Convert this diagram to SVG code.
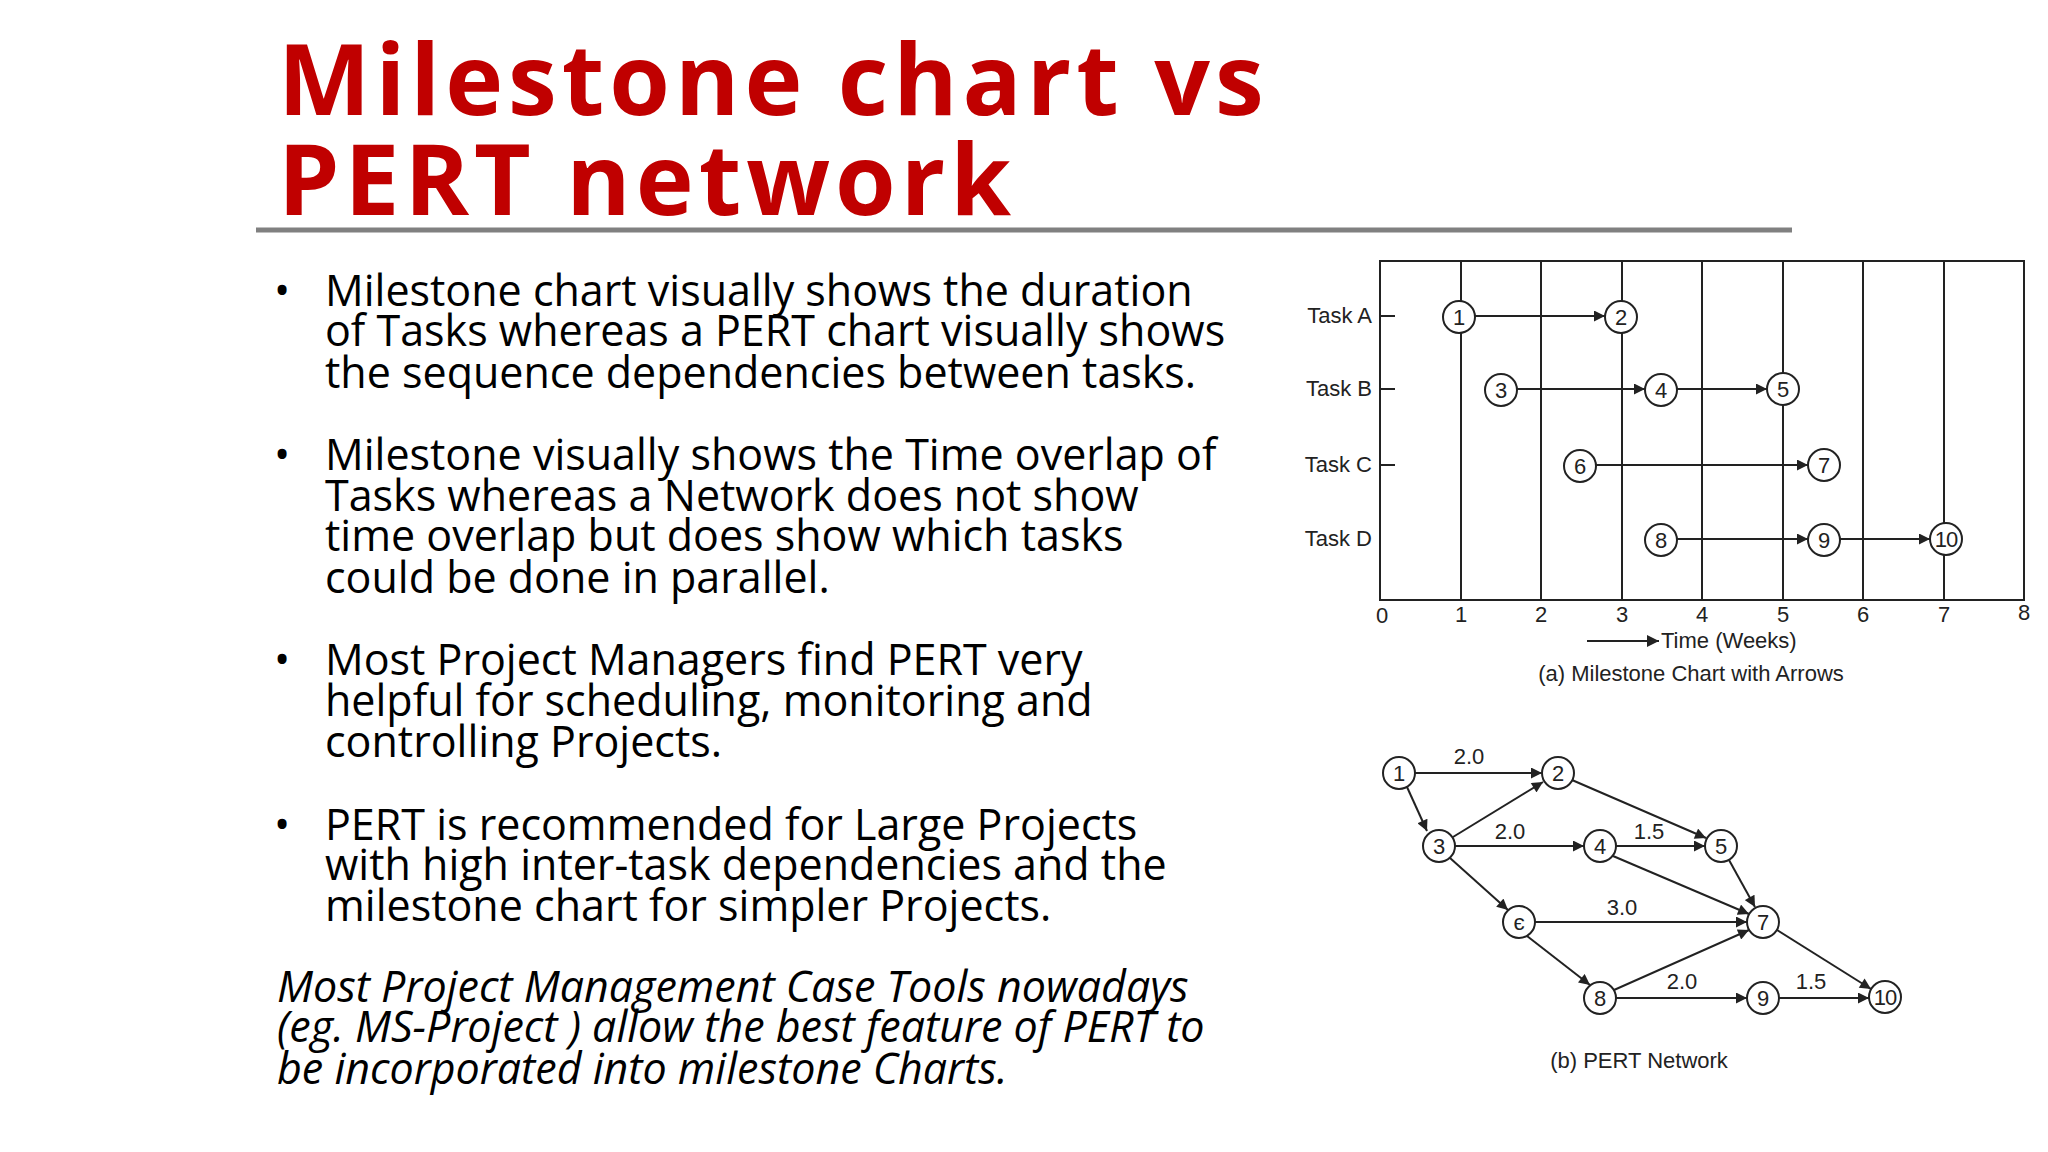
<svg xmlns="http://www.w3.org/2000/svg" width="2048" height="1152" viewBox="0 0 2048 1152">
<defs>
<style>
.t{font-family:"Open Sans","Noto Sans",sans-serif;font-size:43px;fill:#000}
.ti{font-family:"Open Sans","Noto Sans",sans-serif;font-size:43px;font-style:italic;fill:#000}
.h{font-family:"Open Sans","Noto Sans",sans-serif;font-size:98px;font-weight:bold;fill:#C00000;letter-spacing:5px}
.s{font-family:"Liberation Sans",Arial,sans-serif;font-size:22px;fill:#222}
.n{font-family:"Liberation Sans",Arial,sans-serif;font-size:22px;fill:#222;text-anchor:middle}
.c{fill:#fff;stroke:#222;stroke-width:2}
.g{stroke:#222;stroke-width:2;fill:none}
.a{stroke:#222;stroke-width:2;fill:none;marker-end:url(#ah)}
</style>
<marker id="ah" viewBox="0 0 10 10" refX="10" refY="5" markerWidth="12" markerHeight="11" markerUnits="userSpaceOnUse" orient="auto"><path d="M0,0 L10,5 L0,10 z" fill="#222"/></marker>
<marker id="ah2" viewBox="0 0 10 10" refX="10" refY="5" markerWidth="13" markerHeight="12" markerUnits="userSpaceOnUse" orient="auto"><path d="M0,0 L10,5 L0,10 z" fill="#222"/></marker>
</defs>
<rect width="2048" height="1152" fill="#fff"/>
<g id="title">
<text class="h" x="278" y="115">Milestone chart vs</text>
<text class="h" x="278" y="215">PERT network</text>
<line x1="256" y1="230" x2="1792" y2="230" stroke="#808080" stroke-width="5"/>
</g>
<g id="bullets">
<text class="t" x="274" y="306">•</text>
<text class="t" x="325" y="306">Milestone chart visually shows the duration</text>
<text class="t" x="325" y="346">of Tasks whereas a PERT chart visually shows</text>
<text class="t" x="325" y="388">the sequence dependencies between tasks.</text>
<text class="t" x="274" y="470">•</text>
<text class="t" x="325" y="470">Milestone visually shows the Time overlap of</text>
<text class="t" x="325" y="511">Tasks whereas a Network does not show</text>
<text class="t" x="325" y="551">time overlap but does show which tasks</text>
<text class="t" x="325" y="593">could be done in parallel.</text>
<text class="t" x="274" y="675">•</text>
<text class="t" x="325" y="675">Most Project Managers find PERT  very</text>
<text class="t" x="325" y="716">helpful for scheduling, monitoring and</text>
<text class="t" x="325" y="757">controlling Projects.</text>
<text class="t" x="274" y="840">•</text>
<text class="t" x="325" y="840">PERT is recommended for Large Projects</text>
<text class="t" x="325" y="880">with high inter-task dependencies and the</text>
<text class="t" x="325" y="921">milestone  chart for simpler Projects.</text>
<text class="ti" x="277" y="1002">Most Project Management Case Tools nowadays</text>
<text class="ti" x="277" y="1042">(eg. MS-Project ) allow the  best feature of PERT to</text>
<text class="ti" x="277" y="1084">be incorporated into milestone  Charts.</text>
</g>
<g id="milestone-chart">
<rect x="1380" y="261" width="644" height="339" class="g"/>
<path class="g" d="M1461,261V600M1541,261V600M1622,261V600M1702,261V600M1783,261V600M1863,261V600M1944,261V600"/>
<path class="g" d="M1380,316h15M1380,389h15M1380,465h15"/>
<text class="s" x="1372" y="323" text-anchor="end">Task A</text>
<text class="s" x="1372" y="396" text-anchor="end">Task B</text>
<text class="s" x="1372" y="472" text-anchor="end">Task C</text>
<text class="s" x="1372" y="546" text-anchor="end">Task D</text>
<g class="n">
<text x="1382" y="623">0</text><text x="1461" y="622">1</text><text x="1541" y="622">2</text><text x="1622" y="622">3</text><text x="1702" y="622">4</text><text x="1783" y="622">5</text><text x="1863" y="622">6</text><text x="1944" y="622">7</text><text x="2024" y="620">8</text>
</g>
<line x1="1587" y1="641" x2="1659" y2="641" stroke="#222" stroke-width="2" marker-end="url(#ah2)"/>
<text class="s" x="1661" y="648">Time (Weeks)</text>
<text class="n" x="1691" y="681">(a) Milestone Chart with Arrows</text>
<g id="mc-connectors">
<line class="a" x1="1475" y1="316" x2="1605" y2="316"/>
<line class="a" x1="1517" y1="389" x2="1645" y2="389"/>
<line class="a" x1="1677" y1="389" x2="1767" y2="389"/>
<line class="a" x1="1596" y1="465" x2="1808" y2="465"/>
<line class="a" x1="1677" y1="539" x2="1808" y2="539"/>
<line class="a" x1="1840" y1="539" x2="1930" y2="539"/>
</g>
<g id="m1"><circle class="c" cx="1459" cy="317" r="16"/><text class="n" x="1459" y="325">1</text></g>
<g id="m2"><circle class="c" cx="1621" cy="317" r="16"/><text class="n" x="1621" y="325">2</text></g>
<g id="m3"><circle class="c" cx="1501" cy="390" r="16"/><text class="n" x="1501" y="398">3</text></g>
<g id="m4"><circle class="c" cx="1661" cy="390" r="16"/><text class="n" x="1661" y="398">4</text></g>
<g id="m5"><circle class="c" cx="1783" cy="389" r="16"/><text class="n" x="1783" y="397">5</text></g>
<g id="m6"><circle class="c" cx="1580" cy="466" r="16"/><text class="n" x="1580" y="474">6</text></g>
<g id="m7"><circle class="c" cx="1824" cy="465" r="16"/><text class="n" x="1824" y="473">7</text></g>
<g id="m8"><circle class="c" cx="1661" cy="540" r="16"/><text class="n" x="1661" y="548">8</text></g>
<g id="m9"><circle class="c" cx="1824" cy="540" r="16"/><text class="n" x="1824" y="548">9</text></g>
<g id="m10"><circle class="c" cx="1946" cy="539" r="16"/><text class="n" x="1946" y="547" style="letter-spacing:-1px">10</text></g>
</g>
<g id="pert-connectors">
<line class="a" x1="1415" y1="773" x2="1542" y2="773"/>
<line class="a" x1="1407" y1="787" x2="1427" y2="831"/>
<line class="a" x1="1453" y1="837" x2="1543" y2="782"/>
<line class="a" x1="1572" y1="780" x2="1706" y2="838"/>
<line class="a" x1="1455" y1="846" x2="1584" y2="846"/>
<line class="a" x1="1616" y1="846" x2="1705" y2="846"/>
<line class="a" x1="1613" y1="856" x2="1749" y2="914"/>
<line class="a" x1="1729" y1="860" x2="1755" y2="907"/>
<line class="a" x1="1450" y1="858" x2="1508" y2="910"/>
<line class="a" x1="1535" y1="922" x2="1747" y2="922"/>
<line class="a" x1="1527" y1="936" x2="1590" y2="985"/>
<line class="a" x1="1614" y1="990" x2="1749" y2="930"/>
<line class="a" x1="1616" y1="998" x2="1747" y2="998"/>
<line class="a" x1="1779" y1="998" x2="1869" y2="998"/>
<line class="a" x1="1777" y1="930" x2="1871" y2="989"/>
</g>
<g class="n">
<text x="1469" y="764">2.0</text><text x="1510" y="839">2.0</text><text x="1649" y="839">1.5</text><text x="1622" y="915">3.0</text><text x="1682" y="989">2.0</text><text x="1811" y="989">1.5</text>
</g>
<g id="p1"><circle class="c" cx="1399" cy="773" r="16"/><text class="n" x="1399" y="781">1</text></g>
<g id="p2"><circle class="c" cx="1558" cy="773" r="16"/><text class="n" x="1558" y="781">2</text></g>
<g id="p3"><circle class="c" cx="1439" cy="846" r="16"/><text class="n" x="1439" y="854">3</text></g>
<g id="p4"><circle class="c" cx="1600" cy="846" r="16"/><text class="n" x="1600" y="854">4</text></g>
<g id="p5"><circle class="c" cx="1721" cy="846" r="16"/><text class="n" x="1721" y="854">5</text></g>
<g id="p6"><circle class="c" cx="1519" cy="922" r="16"/><text class="n" x="1519" y="930">є</text></g>
<g id="p7"><circle class="c" cx="1763" cy="922" r="16"/><text class="n" x="1763" y="930">7</text></g>
<g id="p8"><circle class="c" cx="1600" cy="998" r="16"/><text class="n" x="1600" y="1006">8</text></g>
<g id="p9"><circle class="c" cx="1763" cy="998" r="16"/><text class="n" x="1763" y="1006">9</text></g>
<g id="p10"><circle class="c" cx="1885" cy="997" r="16"/><text class="n" x="1885" y="1005" style="letter-spacing:-1px">10</text></g>
<text class="n" x="1639" y="1068">(b) PERT Network</text>
</svg>
